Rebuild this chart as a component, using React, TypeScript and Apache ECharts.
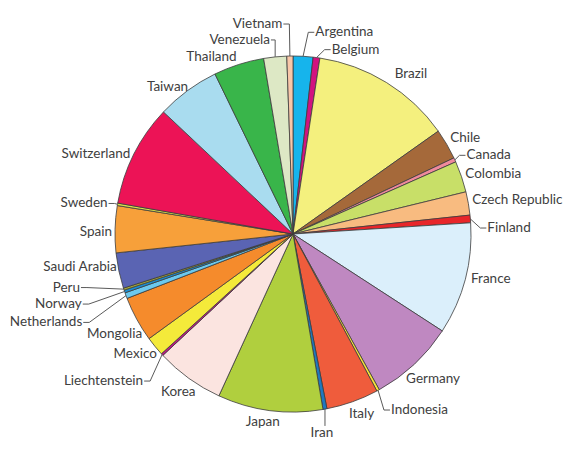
import React, { useEffect, useRef } from 'react';
import * as echarts from 'echarts';

const countries = ['Argentina', 'Belgium', 'Brazil', 'Chile', 'Canada', 'Colombia', 'Czech Republic', 'Finland', 'France', 'Germany', 'Indonesia', 'Italy', 'Iran', 'Japan', 'Korea', 'Liechtenstein', 'Mexico', 'Mongolia', 'Netherlands', 'Norway', 'Peru', 'Saudi Arabia', 'Spain', 'Sweden', 'Switzerland', 'Taiwan', 'Thailand', 'Venezuela', 'Vietnam'];
const values = [6.5, 2.2, 46.0, 10.0, 1.4, 10.2, 7.6, 2.5, 36.6, 28.0, 0.9, 17.1, 1.3, 34.3, 22.4, 0.7, 6.3, 14.8, 1.9, 0.9, 0.7, 11.6, 15.3, 0.8, 33.3, 20.7, 16.5, 7.5, 2.0];
const colors = ['#16b4ec', '#d2137f', '#f4f07e', '#a5693a', '#f0899c', '#c8df68', '#f8bb80', '#e8262a', '#dbeffb', '#bf88c1', '#f5e33a', '#ef5c3c', '#1f78c0', '#b0cf3e', '#fbe4e0', '#c4168a', '#f4ea3a', '#f58b2c', '#6cc9ee', '#1a8fd3', '#a7a93a', '#5a64b3', '#f7a03a', '#d8e04a', '#ec1356', '#a9dcef', '#39b54a', '#dde8c5', '#f8c7a9'];
const withLine = ['Vietnam', 'Venezuela', 'Argentina', 'Belgium', 'Canada', 'Finland', 'Indonesia', 'Iran', 'Liechtenstein', 'Netherlands', 'Norway', 'Peru', 'Sweden'];

// label placement tweaks (pixels), layout only
const labelNudge: Record<string, [number, number]> = {
  Vietnam: [-31, -22],
  Argentina: [36, -14],
  Belgium: [29, 2],
  Venezuela: [-26, -7],
  Thailand: [-3, 2],
  Brazil: [6, 0],
  Chile: [0, -2],
  Canada: [8, -1],
  'Czech Republic': [0, -3],
  Finland: [13, 9],
  France: [2, -4],
  Germany: [-11, 6],
  Indonesia: [11, 9],
  Italy: [-5, 1],
  Iran: [-10, 12],
  Korea: [9, 4],
  Liechtenstein: [-16, 18],
  Mexico: [5, 0],
  Mongolia: [9, 9],
  Netherlands: [-40, 22],
  Norway: [-39, 8],
  Peru: [-40, -6],
  'Saudi Arabia': [2, -7],
  Spain: [1, 2],
  Sweden: [-6, 0],
  Switzerland: [0, 4],
  Taiwan: [3, 4],
};

const CX = 293;
const CY = 234;
const R = 178;
const GAP = 4;

export default function App() {
  const ref = useRef<HTMLDivElement>(null);
  useEffect(() => {
    if (!ref.current) return;
    const chart = echarts.init(ref.current, null, { renderer: 'svg' });
    const total = values.reduce((a, b) => a + b, 0);
    const mids: number[] = [];
    let acc = 0;
    values.forEach((v) => {
      mids.push(((acc + v / 2) / total) * 2 * Math.PI);
      acc += v;
    });
    chart.setOption({
      animation: false,
      backgroundColor: '#ffffff',
      series: [
        {
          type: 'pie',
          center: [CX, CY],
          radius: R,
          startAngle: 90,
          clockwise: true,
          avoidLabelOverlap: false,
          itemStyle: { borderColor: '#3c3c3c', borderWidth: 0.8 },
          label: {
            show: true,
            position: 'outside',
            color: '#404040',
            fontFamily: 'Lato',
            fontSize: 13.5,
            overflow: 'none',
          },
          labelLine: {
            show: true,
            length: 6,
            length2: 6,
            lineStyle: { color: '#5a5a5a', width: 1 },
          },
          labelLayout: (params: any) => {
            const i = params.dataIndex;
            const name = countries[i];
            const a = mids[i];
            const s = Math.sin(a);
            const c = Math.cos(a);
            const w = params.labelRect.width;
            const h = params.labelRect.height;
            const ax = CX + (R + GAP) * s;
            const ay = CY - (R + GAP) * c;
            const f = Math.min(1, 3 * Math.abs(s));
            const n = labelNudge[name] || [0, 0];
            const lx = ax + Math.sign(s) * f * (w / 2) + n[0];
            const ly = ay - c * (h / 2) + n[1];
            const out: any = { x: lx, y: ly, align: 'center', verticalAlign: 'middle' };
            if (withLine.includes(name)) {
              const ex = CX + R * s;
              const ey = CY - R * c;
              let pts: number[][];
              if (ex >= lx - w / 2 && ex <= lx + w / 2) {
                const ty = ey < ly ? ly - h / 2 + 1 : ly + h / 2 - 1;
                pts = [[ex, ey], [ex, ty], [ex, ty]];
              } else {
                const side = ex > lx ? 1 : -1;
                const tx = lx + side * (w / 2 + 1);
                const ex2 = tx + side * Math.min(6, Math.abs(ex - tx));
                pts = [[ex, ey], [ex2, ly + 1], [tx, ly + 1]];
              }
              out.labelLinePoints = pts;
            }
            return out;
          },
          emphasis: { disabled: true },
          data: countries.map((name, i) => ({
            name,
            value: values[i],
            itemStyle: { color: colors[i] },
            labelLine: { show: withLine.includes(name) },
          })),
        },
      ],
    });
    return () => chart.dispose();
  }, []);
  return <div ref={ref} style={{ position: 'fixed', left: 0, top: 0, width: 576, height: 454 }} />;
}
